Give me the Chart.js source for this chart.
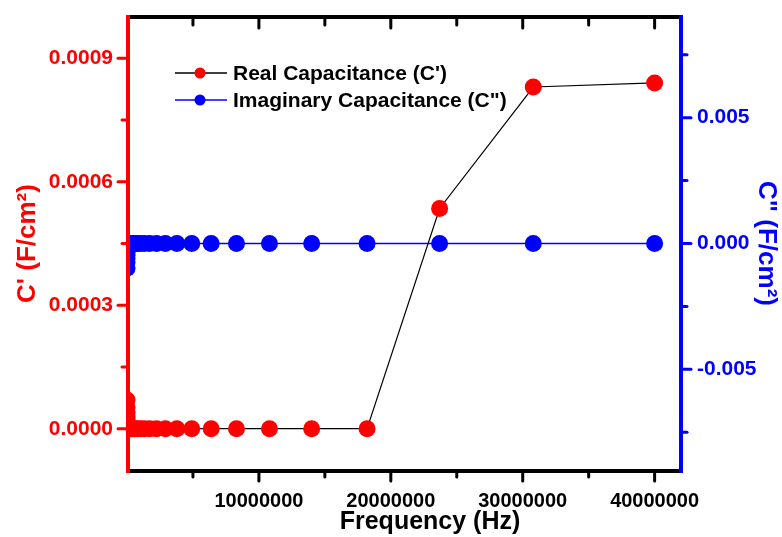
<!DOCTYPE html>
<html>
<head>
<meta charset="utf-8">
<script src="https://cdn.jsdelivr.net/npm/chart.js@4.4.1/dist/chart.umd.min.js"></script>
<style>
  html, body { margin: 0; padding: 0; background: #fff; }
  #wrap { width: 782px; height: 537px; position: relative; }
</style>
</head>
<body>
<div id="wrap"><canvas id="chart"></canvas></div>
<script>
// frequency sweep (Hz)
const freqHz = [100, 140, 180, 230, 300, 400, 510, 670, 870, 1100,
  1500, 1900, 2500, 3200, 4100, 5400, 7000, 9000, 12000, 15000,
  20000, 26000, 34000, 44000, 57000, 74000, 96000, 125000, 163000, 211000,
  275000, 357000, 465000, 604000, 785000, 1020000, 1320000, 1720000, 2240000, 2910000,
  3780000, 4910000, 6380000, 8300000, 10800000, 14000000, 18200000, 23700000, 30800000, 40000000];

// C' (F/cm2)
const realC = [0.000070, 0.000052, 0.000040, 0.000031, 0.000024, 0.000018, 0.000014, 0.000010, 0.0000078, 0.0000060,
  0.0000045, 0.0000035, 0.0000027, 0.0000021, 0.0000017, 0.0000014, 0.0000012, 0.0000010, 0.0000009, 0.0000008,
  0.0000007, 0.0000007, 0.0000006, 0.0000006, 0.0000006, 0.0000005, 0.0000005, 0.0000005, 0.0000005, 0.0000005,
  0.0000004, 0.0000004, 0.0000004, 0.0000004, 0.0000004, 0.0000004, 0.0000003, 0.0000003, 0.0000003, 0.0000003,
  0.0000003, 0.0000003, 0.0000003, 0.0000003, 0.0000003, 0.0000003, 0.0000004, 0.000535, 0.000830, 0.000840];

// C'' (F/cm2)
const imagC = [-0.00098, -0.00075, -0.00060, -0.00048, -0.00038, -0.00030, -0.00024, -0.00019, -0.00015, -0.00012,
  -0.00009, -0.00007, -0.000055, -0.000045, -0.000035, -0.000028, -0.000022, -0.000018, -0.000014, -0.000011,
  -0.000009, -0.000007, -0.000006, -0.000005, -0.000004, -0.000003, -0.000003, -0.000002, -0.000002, -0.000002,
  -0.000001, -0.000001, -0.000001, -0.000001, -0.000001, -0.000001, -0.000001, -0.000001, -0.000001, -0.000001,
  -0.000001, -0.000001, -0.000001, -0.000001, -0.000001, -0.000001, -0.000001, -0.000001, -0.000001, -0.000001];

const xTicks = [10000000, 20000000, 30000000, 40000000];
const xMinor = [5000000, 15000000, 25000000, 35000000];
const leftTicks = [0, 0.0003, 0.0006, 0.0009];
const leftMinor = [0.00015, 0.00045, 0.00075];
const rightTicks = [-0.005, 0, 0.005];
const rightMinor = [-0.0075, -0.0025, 0.0025, 0.0075];

const RED = "#ff0000", BLUE = "#0000ff", BLACK = "#000000";
const FONT = "'Liberation Sans', Arial, sans-serif";

const fixTicks = (values) => (scale) => { scale.ticks = values.map((v) => ({ value: v })); };

// axis frame + major/minor tick marks, drawn over the data like the original
const frame = {
  id: "frame",
  afterDatasetsDraw(chart) {
    const { ctx, chartArea: a, scales } = chart;
    const line = (x1, y1, x2, y2, color, w) => {
      ctx.strokeStyle = color;
      ctx.lineWidth = w;
      ctx.beginPath();
      ctx.moveTo(x1, y1);
      ctx.lineTo(x2, y2);
      ctx.stroke();
    };
    ctx.save();
    ctx.lineCap = "round";
    const L = a.left + 1, R = a.right, T = a.top, B = a.bottom + 1;
    xTicks.forEach((v) => {
      const x = scales.x.getPixelForValue(v);
      line(x, B, x, B + 10, BLACK, 3);
      line(x, T, x, T + 11, BLACK, 3);
    });
    xMinor.forEach((v) => {
      const x = scales.x.getPixelForValue(v);
      line(x, B, x, B + 6, BLACK, 3);
      line(x, T, x, T + 8, BLACK, 3);
    });
    leftTicks.forEach((v) => { const y = scales.y.getPixelForValue(v); line(L, y, L - 10, y, RED, 3); });
    leftMinor.forEach((v) => { const y = scales.y.getPixelForValue(v); line(L, y, L - 6, y, RED, 3); });
    rightTicks.forEach((v) => { const y = scales.y2.getPixelForValue(v); line(R, y, R + 10, y, BLUE, 3); });
    rightMinor.forEach((v) => { const y = scales.y2.getPixelForValue(v); line(R, y, R + 6, y, BLUE, 3); });
    ctx.lineCap = "square";
    line(L, T, R, T, BLACK, 4);
    line(L, B, R, B, BLACK, 4);
    line(L, T, L, B, RED, 4);
    line(R, T, R, B, BLUE, 4);
    ctx.restore();
  },
  afterDraw(chart) {
    const { ctx } = chart;
    ctx.save();
    ctx.fillStyle = BLACK;
    ctx.font = "bold 25px " + FONT;
    ctx.textAlign = "center";
    ctx.textBaseline = "alphabetic";
    ctx.fillText("Frequency (Hz)", 430, 529);

    // legend
    const rows = [
      { text: "Real Capacitance (C')", line: BLACK, dot: RED, y: 73 },
      { text: "Imaginary Capacitance (C\")", line: BLUE, dot: BLUE, y: 100 },
    ];
    ctx.font = "bold 21px " + FONT;
    ctx.textAlign = "left";
    ctx.textBaseline = "middle";
    rows.forEach((r) => {
      ctx.strokeStyle = r.line;
      ctx.lineWidth = 1.3;
      ctx.beginPath();
      ctx.moveTo(175, r.y);
      ctx.lineTo(227, r.y);
      ctx.stroke();
      ctx.fillStyle = r.dot;
      ctx.beginPath();
      ctx.arc(200, r.y, 5.5, 0, Math.PI * 2);
      ctx.fill();
      ctx.fillStyle = BLACK;
      ctx.fillText(r.text, 233, r.y + 1);
    });
    ctx.restore();
  },
};

const tickFont = { family: FONT, size: 20, weight: "bold" };
const yTickFont = { family: FONT, size: 21, weight: "bold" };
const titleFont = { family: FONT, size: 26, weight: "bold" };

// fixed axis box sizes so the plot area sits where it does in the original
const fitY = (w) => (s) => { s.width = w; s.paddingTop = 0; s.paddingBottom = 0; };

new Chart(document.getElementById("chart"), {
  type: "line",
  data: {
    datasets: [
      {
        label: "Real Capacitance (C')",
        data: freqHz.map((f, i) => ({ x: f, y: realC[i] })),
        yAxisID: "y",
        borderColor: BLACK,
        borderWidth: 1.2,
        pointBackgroundColor: RED,
        pointBorderWidth: 0,
        pointRadius: 8.5,
        pointHoverRadius: 8.5,
        tension: 0,
      },
      {
        label: "Imaginary Capacitance (C\")",
        data: freqHz.map((f, i) => ({ x: f, y: imagC[i] })),
        yAxisID: "y2",
        borderColor: BLUE,
        borderWidth: 1.5,
        pointBackgroundColor: BLUE,
        pointBorderWidth: 0,
        pointRadius: 8.5,
        pointHoverRadius: 8.5,
        tension: 0,
      },
    ],
  },
  options: {
    responsive: true,
    maintainAspectRatio: false,
    animation: false,
    events: [],
    layout: { padding: { top: 17, left: 0, right: 0, bottom: 0 } },
    plugins: { legend: { display: false }, tooltip: { enabled: false } },
    scales: {
      x: {
        type: "linear",
        min: 0,
        max: 42000000,
        afterBuildTicks: fixTicks(xTicks),
        afterFit: (s) => { s.height = 67; s.paddingLeft = 0; s.paddingRight = 0; },
        grid: { display: false, drawTicks: false },
        border: { display: false },
        ticks: { color: BLACK, font: tickFont, padding: 19, maxRotation: 0, autoSkip: false, callback: (v) => String(v) },
      },
      y: {
        position: "left",
        min: -0.0001,
        max: 0.001,
        afterBuildTicks: fixTicks(leftTicks),
        afterFit: fitY(127),
        grid: { display: false, drawTicks: false },
        border: { display: false },
        ticks: { color: RED, font: yTickFont, padding: 14, callback: (v) => v.toFixed(4) },
        title: { display: true, text: "C' (F/cm²)", color: RED, font: titleFont, padding: { top: 12, bottom: 0 } },
      },
      y2: {
        position: "right",
        min: -0.009,
        max: 0.009,
        afterBuildTicks: fixTicks(rightTicks),
        afterFit: fitY(101),
        grid: { display: false, drawTicks: false },
        border: { display: false },
        ticks: { color: BLUE, font: yTickFont, padding: 16, callback: (v) => v.toFixed(3) },
        title: { display: true, text: "C\" (F/cm²)", color: BLUE, font: titleFont, padding: { top: 0, bottom: 0 } },
      },
    },
  },
  plugins: [frame],
});
</script>
</body>
</html>
